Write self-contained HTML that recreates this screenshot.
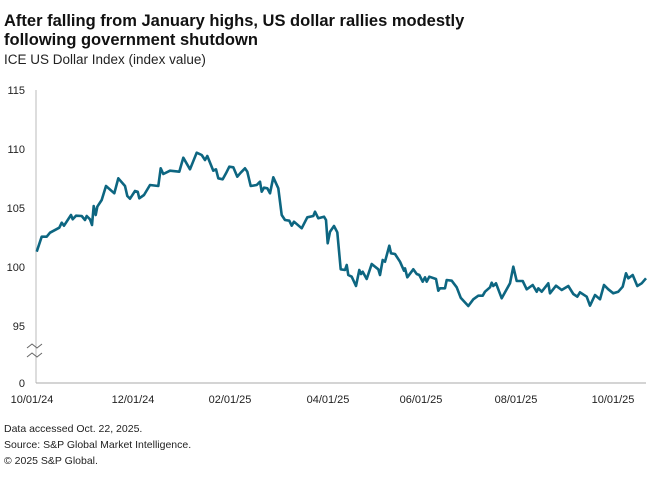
<!DOCTYPE html>
<html><head><meta charset="utf-8"><style>
body{margin:0;background:#fff;font-family:"Liberation Sans",Arial,sans-serif;}
svg text{font-family:"Liberation Sans",Arial,sans-serif;}
</style></head><body>
<svg width="660" height="477" viewBox="0 0 660 477" xmlns="http://www.w3.org/2000/svg">
<text x="4" y="26" font-size="16.5" font-weight="bold" fill="#111">After falling from January highs, US dollar rallies modestly</text>
<text x="4" y="45" font-size="16.5" font-weight="bold" fill="#111">following government shutdown</text>
<text x="4" y="64" font-size="13.5" fill="#222">ICE US Dollar Index (index value)</text>
<g font-size="11" fill="#222" text-anchor="end">
<text x="25" y="94">115</text><text x="25" y="153">110</text><text x="25" y="212">105</text>
<text x="25" y="271">100</text><text x="25" y="330">95</text><text x="25" y="387">0</text>
</g>
<line x1="36" y1="90" x2="36" y2="383" stroke="#bbb" stroke-width="1"/>
<line x1="36" y1="383" x2="646" y2="383" stroke="#aaa" stroke-width="1"/>
<path d="M27,348 l5,-4 l5,4 l5,-4 M27,357 l5,-4 l5,4 l5,-4" fill="none" stroke="#666" stroke-width="1"/>
<g font-size="11" fill="#222" text-anchor="middle">
<text x="32" y="403">10/01/24</text><text x="133" y="403">12/01/24</text><text x="230" y="403">02/01/25</text>
<text x="328" y="403">04/01/25</text><text x="421" y="403">06/01/25</text><text x="516" y="403">08/01/25</text><text x="613" y="403">10/01/25</text>
</g>
<polyline fill="none" stroke="#0d6681" stroke-width="2.6" stroke-linejoin="round" points="36.7,251.7 41.7,236.7 46.7,236.7 50,232.7 59.3,227.7 61.7,222.7 64,225.7 71,215 72.7,219.3 76,215.7 81.7,216 85,220 86.7,216 90,219.3 92,225 93.7,206 95.7,215 97.3,206.7 101.7,200 106,186 114.3,193.3 118.3,178.3 125,186 127.3,196 130,198.7 135,191 137.7,191.7 139.3,198.3 144,195 150,185 158.3,186 160.7,168.3 163.3,174 170,170.7 179.3,171.7 183.3,157.7 190,169.3 196.7,152.7 201.7,155 205,160 207.3,156 213.3,170.7 216,169.3 218.3,178.3 222.7,179.3 226,173.3 229.3,166.7 233.3,167.3 237.3,176.7 240.7,172.7 245,168.3 247.3,171.7 250.7,186 256.7,185 260,181.7 261.7,191.7 264,187.7 267.3,188.3 270,193.3 273.3,177.3 278.3,188.3 281.7,215 285,220 289.3,220.7 291.7,225.7 294,221.7 301.7,228.3 307.3,217.3 313.3,216 315,211.7 318.3,218.3 324,216.7 326,220 327.7,243.3 330,231.7 334,226 337.3,232.3 340.7,269.3 345,270 346.7,265 348.3,275 351.7,276.7 356,286 359.3,270 361,274 362.7,271.7 366.7,279 371.7,264 378.3,269.3 380,275 382.7,260 385,261.7 389.3,245.7 391,253.3 395,254 400,261.7 404,270.7 405,268.3 407.3,277.3 413.3,269.3 416.7,274 419.3,275 422.7,281.7 425,277.3 426.7,281.7 429.3,276.7 436,279 438.3,290.7 440,288.3 445,288.3 446.7,280 451.7,280.7 456.7,287.3 460.7,297.7 468.3,306 473.3,299.3 478.3,295.7 482.7,295.7 485,291.7 490,287.3 491.7,282.7 493.3,286 496,283.3 501.7,298.3 510,283.3 513.3,266.7 516.7,281 522.7,281 526.7,289.3 532.7,285 536.7,291.7 538.3,288.3 541.7,291.7 548.3,283.3 550,293.3 556,285.7 561.7,290 568.3,286 573.3,294 577.3,296.7 580,292.3 586.7,296.7 590,305.7 595,295 600,299.3 604,285 608.3,289.3 613.3,293.3 618.3,291.7 622.7,286.7 626,273.3 628.3,278.3 632.7,275 637.3,286 641.7,283.3 646,278.3"/>
<g font-size="10.5" fill="#222">
<text x="4" y="432">Data accessed Oct. 22, 2025.</text>
<text x="4" y="448">Source: S&amp;P Global Market Intelligence.</text>
<text x="4" y="464">© 2025 S&amp;P Global.</text>
</g>
</svg>
</body></html>
